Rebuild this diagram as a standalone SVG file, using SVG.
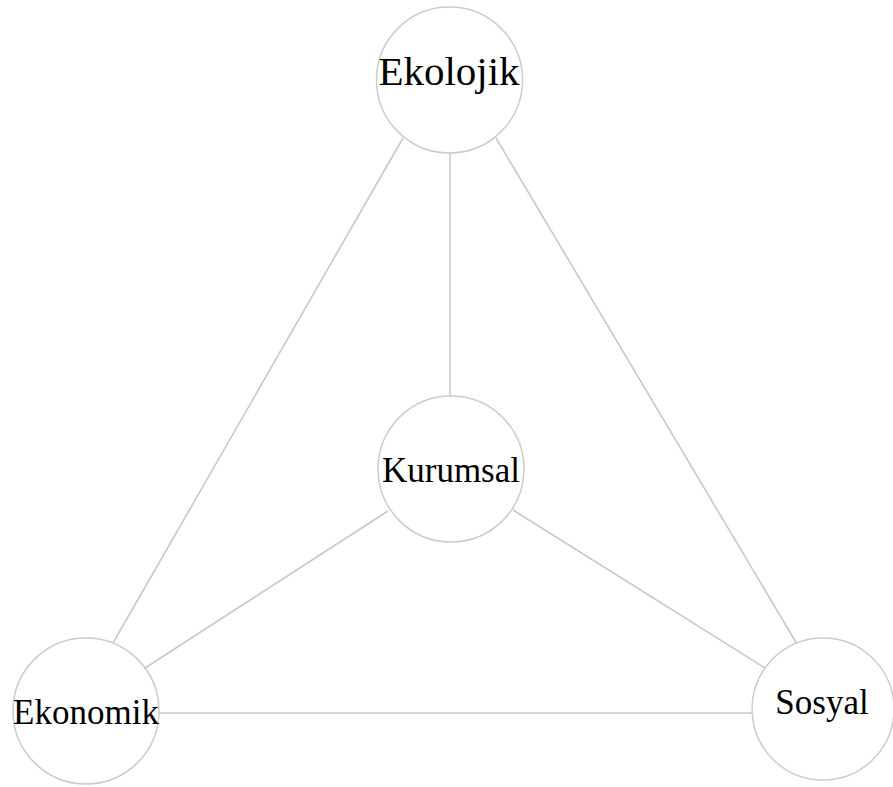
<svg xmlns="http://www.w3.org/2000/svg" width="893" height="787" viewBox="0 0 893 787">
<style>
.edge{stroke:#c8c8c8;stroke-width:1.6;fill:none}
.node{fill:#ffffff;stroke:#cccccc;stroke-width:1.5}
.lbl{font-family:"Liberation Serif","Times New Roman",serif;fill:#000;text-anchor:middle}
</style>
<rect width="893" height="787" fill="#ffffff"/>
<g id="connectors">
<line class="edge" x1="450" y1="152" x2="450" y2="396"/>
<line class="edge" x1="403" y1="138" x2="113" y2="643"/>
<line class="edge" x1="496" y1="138" x2="797" y2="644"/>
<line class="edge" x1="388" y1="511" x2="145" y2="668"/>
<line class="edge" x1="513" y1="510" x2="765" y2="668"/>
<line class="edge" x1="158" y1="713" x2="753" y2="713"/>
</g>
<g id="ekolojik">
<circle class="node" cx="449.5" cy="80" r="73"/>
<text class="lbl" x="449" y="85" font-size="41">Ekolojik</text>
</g>
<g id="kurumsal">
<circle class="node" cx="451" cy="469" r="73"/>
<text class="lbl" x="451" y="482" font-size="35">Kurumsal</text>
</g>
<g id="ekonomik">
<circle class="node" cx="86" cy="711" r="73"/>
<text class="lbl" x="86" y="724" font-size="35">Ekonomik</text>
</g>
<g id="sosyal">
<circle class="node" cx="823" cy="709" r="71"/>
<text class="lbl" x="822" y="714" font-size="35">Sosyal</text>
</g>
</svg>
